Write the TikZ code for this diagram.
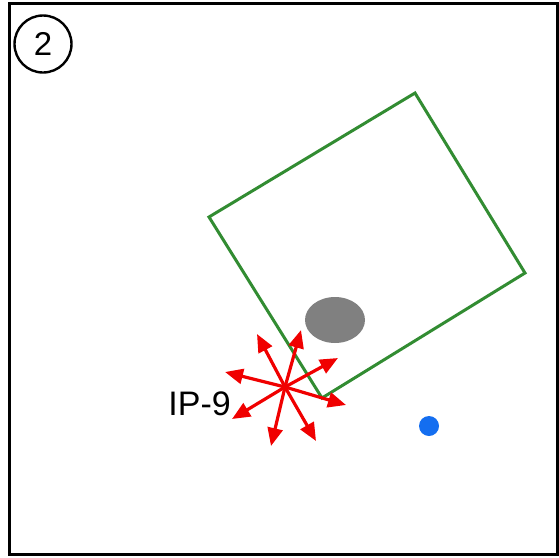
\documentclass[tikz,border=0pt]{standalone}
\usepackage{fontspec}
\setmainfont{Liberation Sans}
\usetikzlibrary{arrows.meta,positioning}

\definecolor{zonegreen}{RGB}{50,140,50}
\definecolor{blobgray}{RGB}{128,128,128}
\definecolor{pointblue}{RGB}{20,110,240}
\definecolor{rayred}{RGB}{240,0,0}

\begin{document}
\begin{tikzpicture}[
    x=1pt,
    y=-1pt,
    frame/.style={
        draw=black,
        line width=3pt
    },
    badge/.style={
        circle,
        draw=black,
        line width=2.4pt,
        minimum size=57pt,
        inner sep=0pt,
        font=\fontsize{33}{33}\selectfont
    },
    zone/.style={
        draw=zonegreen,
        line width=3pt,
        line join=miter
    },
    ray/.style={
        draw=rayred,
        line width=3.2pt,
        -{Triangle[length=18pt,width=15pt]}
    },
    tag/.style={
        font=\fontsize{34}{34}\selectfont,
        inner sep=0pt
    }
]

    \useasboundingbox (0,0) rectangle (559,557);

    % --- Frame and badge ---
    \draw [frame] (9,3) rectangle (557,554);
    \node [badge] (panel) at (43,44) {2};

    % --- Tilted zone and objects ---
    \draw [zone] (209,217) -- (415,93) -- (525,273) -- (322,398) -- cycle;
    \fill [blobgray] (335,320) ellipse [x radius=30pt, y radius=23pt];
    \fill [pointblue] (429,426) circle [radius=10pt];

    % --- Source point with rays ---
    \coordinate (src) at (285,387);
    \node [tag, anchor=east] (iplabel) at (231,404) {IP-9};

    \foreach \tx/\ty [count=\i] in {257/334, 301/330, 338/358, 346/405,
                                  316/441, 271/446, 232/419, 225/372} {
        \coordinate (tip\i) at (\tx,\ty);
        \draw [ray] (src) -- (tip\i);
    }

\end{tikzpicture}
\end{document}
